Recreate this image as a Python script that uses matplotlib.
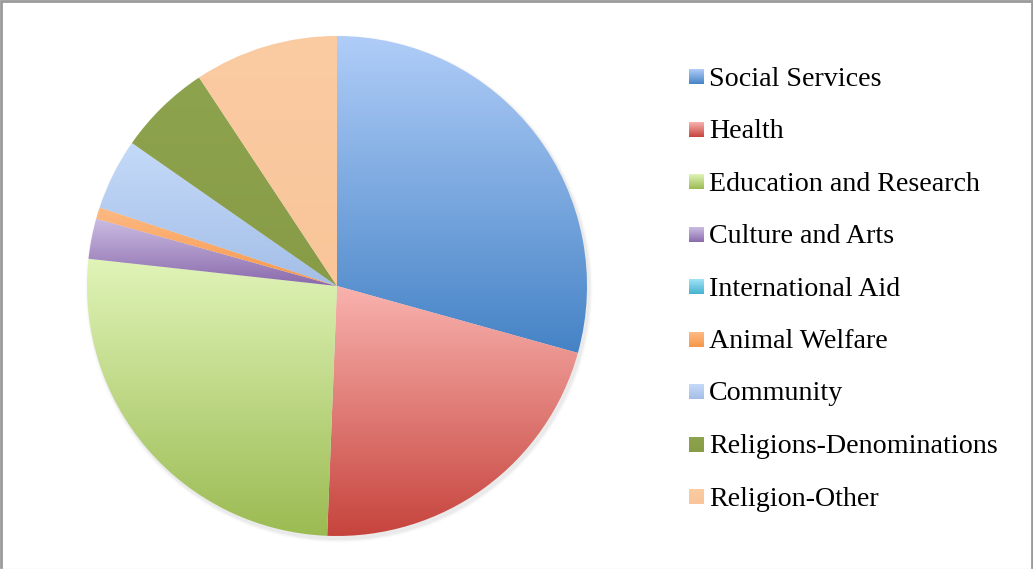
import numpy as np
import matplotlib
matplotlib.use("Agg")
import matplotlib.pyplot as plt
from matplotlib.colors import to_rgb
from matplotlib.patches import Circle

# Share of giving by sector (percent)
categories = ['Social Services', 'Health', 'Education and Research', 'Culture and Arts',
              'International Aid', 'Animal Welfare', 'Community',
              'Religions-Denominations', 'Religion-Other']
shares = [29.3, 21.3, 26.1, 2.6, 0.0, 0.75, 4.6, 6.0, 9.3]

# top / bottom colours of each slice's vertical gradient
top_colors = ['#b0cdf8', '#f9b2ae', '#e0f4b8', '#cbbde3', '#a0e3f6',
              '#fdba84', '#c4daf9', '#8ea34e', '#fbcba2']
bottom_colors = ['#4583c6', '#c6443d', '#9bbb52', '#8a6aab', '#45b2cf',
                 '#f7974a', '#a4bee7', '#889c48', '#f9c599']

W, H = 1033, 569
fig = plt.figure(figsize=(W / 100, H / 100), dpi=100)
ax = fig.add_axes([0, 0, 1, 1])
ax.set_axis_off()


def gradient(c_top, c_bot, n=256):
    t = np.linspace(0, 1, n)[:, None]
    top = np.array(to_rgb(c_top))
    bot = np.array(to_rgb(c_bot))
    return (bot * (1 - t) + top * t)[:, None, :]


cx, cy, r = 337, H - 286, 250

# soft shadow under the pie
for k, a in [(6, 0.03), (4, 0.05), (2, 0.08)]:
    ax.add_patch(Circle((cx + 2, cy - 3), r + k * 0.6, color='#808080', alpha=a,
                        lw=0, zorder=0))

wedges, _ = ax.pie(shares, center=(cx, cy), radius=r, startangle=90,
                   counterclock=False, normalize=True,
                   wedgeprops=dict(linewidth=0, facecolor='none'))

for w, ct, cb in zip(wedges, top_colors, bottom_colors):
    ext = w.get_path().get_extents()
    im = ax.imshow(gradient(ct, cb), extent=[ext.x0, ext.x1, ext.y0, ext.y1],
                   origin='lower', aspect='auto', interpolation='bilinear', zorder=1)
    im.set_clip_path(w)

# legend with gradient swatches
row0, step = 76.5, 52.5
for i, (lab, ct, cb) in enumerate(zip(categories, top_colors, bottom_colors)):
    yc = H - (row0 + i * step)
    ax.imshow(gradient(ct, cb), extent=[689, 704, yc - 7.5, yc + 7.5],
              origin='lower', aspect='auto', interpolation='bilinear', zorder=2)
    ax.text(709, yc - 2.5, lab, fontsize=20.2, family='Liberation Serif',
            color='#000000', va='center', ha='left')

# chart frame
ax.plot([1, 1, W - 1, W - 1], [0, H - 1, H - 1, 0], color='#9a9a9a', lw=2,
        solid_joinstyle='miter', zorder=3)
ax.plot([0, W], [0.5, 0.5], color='#e6e6e6', lw=1, zorder=3)

ax.set_xlim(0, W)
ax.set_ylim(0, H)

fig.savefig('out.png', dpi=100)
